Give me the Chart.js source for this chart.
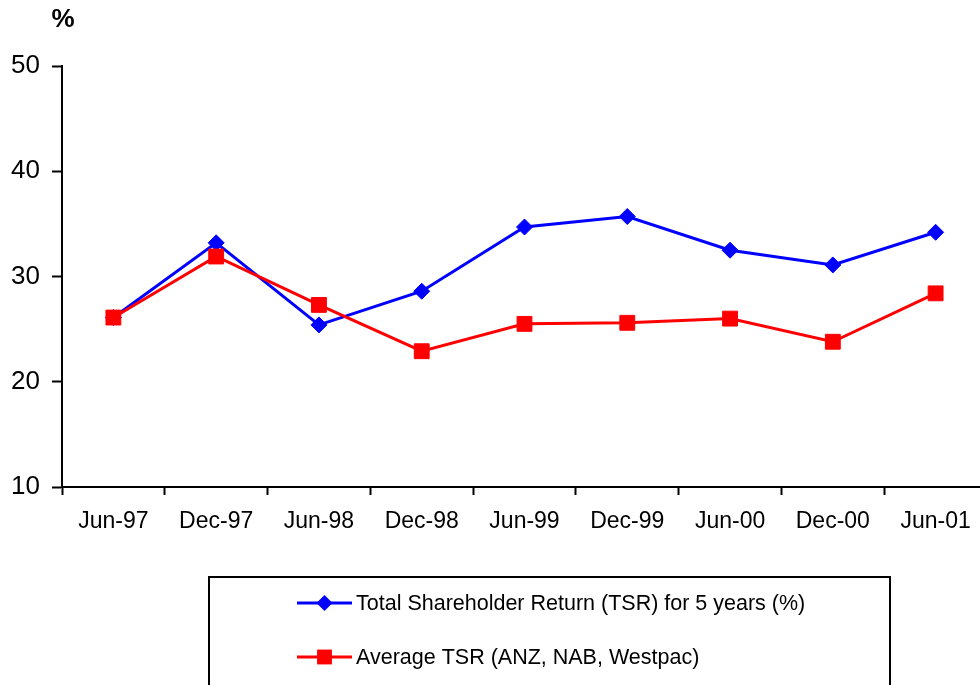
<!DOCTYPE html>
<html>
<head>
<meta charset="utf-8">
<title>Total Shareholder Return</title>
<script src="https://cdn.jsdelivr.net/npm/chart.js@4.4.1/dist/chart.umd.min.js"></script>
<style>
  html, body { margin: 0; padding: 0; background: #fff; overflow: hidden; }
  #wrap { position: absolute; left: 0; top: 0; width: 1000px; height: 720px; }
</style>
</head>
<body>
<div id="wrap"><canvas id="c"></canvas></div>
<script>
// Half-yearly periods
const periods = ['Jun-97', 'Dec-97', 'Jun-98', 'Dec-98', 'Jun-99', 'Dec-99', 'Jun-00', 'Dec-00', 'Jun-01'];

// Five-year total shareholder return (%)
const tsrFiveYear = [26.1, 33.2, 25.4, 28.6, 34.7, 35.7, 32.5, 31.1, 34.2];

// Average TSR of ANZ, NAB and Westpac (%)
const averageTsr = [26.1, 31.9, 27.3, 22.9, 25.5, 25.6, 26.0, 23.8, 28.4];

// Value axis
const yTicks = [10, 20, 30, 40, 50];
const unitLabel = '%';

const seriesNames = [
  'Total Shareholder Return (TSR) for 5 years (%)',
  'Average TSR (ANZ, NAB, Westpac)'
];

const FONT = "'Liberation Sans', Arial, Helvetica, sans-serif";

// Draws the boxed legend under the chart and the unit label above the value axis
const boxedLegend = {
  id: 'boxedLegend',
  afterDraw(chart) {
    const ctx = chart.ctx;
    ctx.save();
    ctx.strokeStyle = '#000';
    ctx.lineWidth = 2;
    ctx.strokeRect(209, 577, 681, 150);

    const rows = [603, 657];
    chart.data.datasets.forEach((ds, i) => {
      const y = rows[i];
      ctx.strokeStyle = ds.borderColor;
      ctx.lineWidth = ds.borderWidth;
      ctx.beginPath();
      ctx.moveTo(297, y);
      ctx.lineTo(352, y);
      ctx.stroke();
      ctx.fillStyle = ds.pointBackgroundColor;
      const cx = 324.5;
      ctx.beginPath();
      if (ds.pointStyle === 'rectRot') {
        const rr = ds.pointRadius;
        ctx.moveTo(cx, y - rr);
        ctx.lineTo(cx + rr, y);
        ctx.lineTo(cx, y + rr);
        ctx.lineTo(cx - rr, y);
        ctx.closePath();
      } else {
        const s = ds.pointRadius * Math.SQRT1_2;
        ctx.rect(cx - s, y - s, 2 * s, 2 * s);
      }
      ctx.fill();
      ctx.fillStyle = '#000';
      ctx.font = '21.5px ' + FONT;
      ctx.textAlign = 'left';
      ctx.textBaseline = 'middle';
      ctx.fillText(ds.label, 356, y + 1);
    });

    ctx.font = 'bold 26px ' + FONT;
    ctx.textAlign = 'center';
    ctx.textBaseline = 'middle';
    ctx.fillStyle = '#000';
    ctx.fillText(unitLabel, 63, 20);
    ctx.restore();
  }
};

new Chart(document.getElementById('c'), {
  type: 'line',
  data: {
    labels: periods,
    datasets: [
      {
        label: seriesNames[0],
        data: tsrFiveYear,
        borderColor: '#0000FF',
        backgroundColor: '#0000FF',
        pointBackgroundColor: '#0000FF',
        pointBorderColor: '#0000FF',
        borderWidth: 3,
        pointStyle: 'rectRot',
        pointRadius: 8,
        pointBorderWidth: 1,
        tension: 0,
        order: 1
      },
      {
        label: seriesNames[1],
        data: averageTsr,
        borderColor: '#FF0000',
        backgroundColor: '#FF0000',
        pointBackgroundColor: '#FF0000',
        pointBorderColor: '#FF0000',
        borderWidth: 3,
        pointStyle: 'rect',
        pointRadius: 10.5,
        pointBorderWidth: 1,
        tension: 0,
        order: 0
      }
    ]
  },
  options: {
    responsive: true,
    maintainAspectRatio: false,
    animation: false,
    devicePixelRatio: 1,
    layout: { padding: { left: 0, top: 66, right: 13, bottom: 173 } },
    plugins: {
      legend: { display: false },
      tooltip: { enabled: false },
      title: { display: false }
    },
    scales: {
      x: {
        type: 'category',
        offset: true,
        grid: {
          display: true,
          offset: true,
          drawOnChartArea: false,
          drawTicks: true,
          tickLength: 8,
          tickWidth: 2,
          tickColor: '#000',
          color: '#000'
        },
        border: { display: true, color: '#000', width: 2 },
        ticks: {
          color: '#000',
          font: { family: FONT, size: 23 },
          padding: 13,
          maxRotation: 0,
          autoSkip: false
        },
        afterFit(scale) { scale.height = 60; }
      },
      y: {
        min: yTicks[0],
        max: yTicks[yTicks.length - 1],
        afterBuildTicks(scale) { scale.ticks = yTicks.map(v => ({ value: v })); },
        grid: {
          display: true,
          drawOnChartArea: false,
          drawTicks: true,
          tickLength: 10,
          tickWidth: 2,
          tickColor: '#000',
          color: '#000'
        },
        border: { display: true, color: '#000', width: 2 },
        ticks: {
          color: '#000',
          font: { family: FONT, size: 26 },
          padding: 12
        },
        afterFit(scale) { scale.width = 62; }
      }
    }
  },
  plugins: [boxedLegend]
});
</script>
</body>
</html>
